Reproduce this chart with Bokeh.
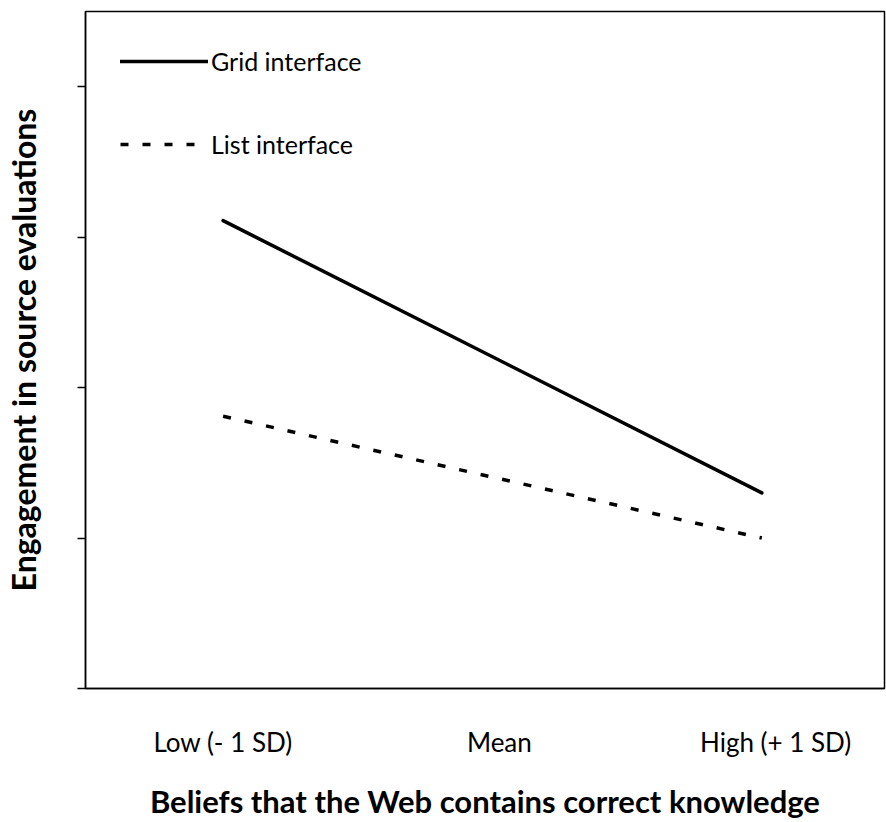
from bokeh.plotting import figure
from bokeh.models import Range1d, FixedTicker, Legend, LegendItem
from bokeh.embed import file_html
from bokeh.resources import INLINE

# Data
x_labels = {-1: "Low (- 1 SD)", 0: "Mean", 1: "High (+ 1 SD)"}
line_x = [-1, 0.95]
grid_y = [3.11, 1.30]
list_y = [1.81, 1.00]
y_ticks = [0, 1, 2, 3, 4]

FONT = "Lato"

p = figure(width=886, height=822, output_backend="svg", toolbar_location=None,
           x_range=Range1d(-1.498, 1.394), y_range=Range1d(0, 4.5),
           min_border_left=84, min_border_right=2, min_border_top=11, min_border_bottom=134)
p.background_fill_color = "white"
p.border_fill_color = "white"
p.outline_line_color = "black"
p.outline_line_width = 1.5
p.grid.visible = False

r_grid = p.line(line_x, grid_y, line_color="black", line_width=3.5, line_cap="round")
r_list = p.line(line_x, list_y, line_color="black", line_width=3.5, line_dash="8 14")

# x axis
xa = p.xaxis[0]
xa.ticker = FixedTicker(ticks=list(x_labels.keys()))
xa.major_label_overrides = {k: v for k, v in x_labels.items()}
xa.major_tick_out = 0
xa.major_tick_in = 0
xa.minor_tick_out = 0
xa.minor_tick_in = 0
xa.axis_line_color = "black"
xa.axis_line_width = 1.5
xa.major_label_text_font = FONT
xa.major_label_text_font_size = "26px"
xa.major_label_text_color = "black"
xa.major_label_standoff = 37
xa.axis_label = "Beliefs that the Web contains correct knowledge"
xa.axis_label_text_font = FONT
xa.axis_label_text_font_style = "bold"
xa.axis_label_text_font_size = "31px"
xa.axis_label_text_color = "black"
xa.axis_label_standoff = 21

# y axis
ya = p.yaxis[0]
ya.ticker = FixedTicker(ticks=y_ticks)
ya.major_label_overrides = {t: "" for t in y_ticks}
ya.major_label_text_font_size = "1px"
ya.major_tick_out = 8
ya.major_tick_in = 0
ya.minor_tick_out = 0
ya.minor_tick_in = 0
ya.major_tick_line_color = "black"
ya.major_tick_line_width = 1.5
ya.axis_line_color = "black"
ya.axis_line_width = 1.5
ya.axis_label = "Engagement in source evaluations"
ya.axis_label_text_font = FONT
ya.axis_label_text_font_style = "bold"
ya.axis_label_text_font_size = "32px"
ya.axis_label_text_color = "black"
ya.axis_label_standoff = 35

legend = Legend(items=[LegendItem(label="Grid interface", renderers=[r_grid]),
                       LegendItem(label="List interface", renderers=[r_list])],
                location=(35, 529))
legend.glyph_width = 88
legend.glyph_height = 30
legend.label_height = 30
legend.label_standoff = 3
legend.spacing = 53
legend.padding = 0
legend.margin = 0
legend.border_line_color = None
legend.background_fill_alpha = 0
legend.label_text_font = FONT
legend.label_text_font_size = "25px"
legend.label_text_color = "black"
p.add_layout(legend, "center")

open("out.html", "w").write(file_html(p, INLINE))
